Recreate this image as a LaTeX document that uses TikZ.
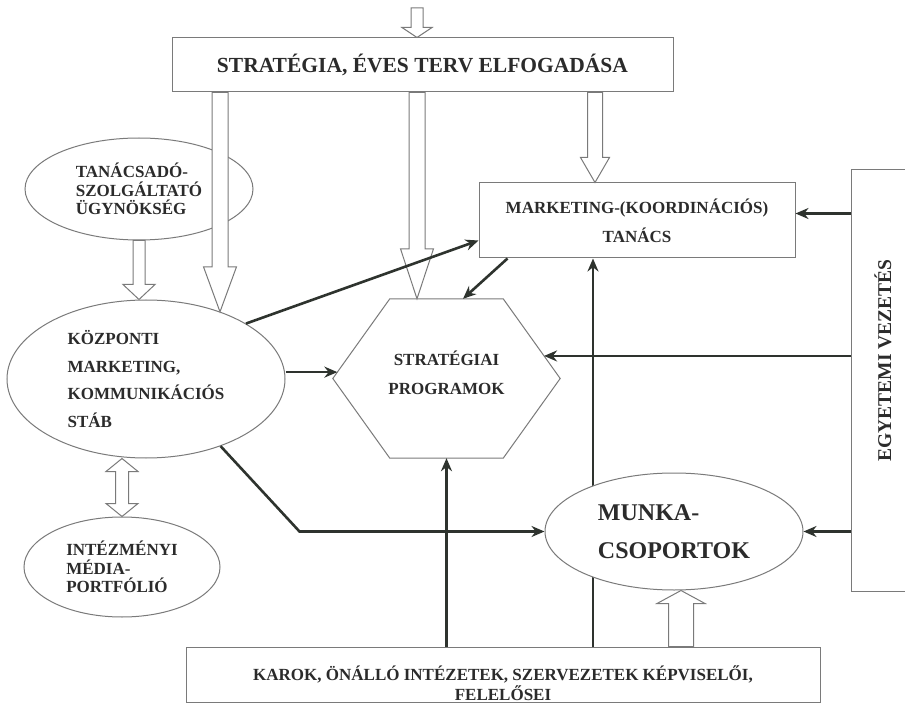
\documentclass[tikz,border=0pt]{standalone}
\usepackage{fontspec}
\setmainfont{Liberation Serif}
\usetikzlibrary{shapes.geometric,arrows.meta,calc,backgrounds}
\definecolor{linegray}{HTML}{7A7A7A}
\definecolor{conncol}{HTML}{2E332E}
\definecolor{txt}{HTML}{2B2B2B}
\tikzset{
  outline/.style={draw=linegray, line width=1pt},
  box/.style={outline, rectangle, inner sep=0pt, fill=white, text=txt},
  ell/.style={outline, ellipse, inner sep=0pt, fill=white, text=txt},
  conn/.style={draw=conncol, line width=2.6pt, -{Stealth[length=13pt,width=11pt]}},
  hollow/.style={draw=linegray, line width=1pt, fill=white, line join=miter},
}
% single hollow block arrow: from #1 to #2, shaft half width #3, head half width #4, head length #5
\newcommand\blockarrow[5]{%
  \path (#1) coordinate (bas) (#2) coordinate (bat);
  \path ($(bat)!#5!(bas)$) coordinate (bab);
  \draw[hollow] ($(bas)!#3!90:(bat)$) -- ($(bab)!#3!-90:(bas)$) -- ($(bab)!#4!-90:(bas)$)
    -- (bat) -- ($(bab)!#4!90:(bas)$) -- ($(bab)!#3!90:(bas)$) -- ($(bas)!#3!-90:(bat)$) -- cycle;
}
% double hollow block arrow
\newcommand\dblockarrow[5]{%
  \path (#1) coordinate (bas) (#2) coordinate (bat);
  \path ($(bat)!#5!(bas)$) coordinate (bab) ($(bas)!#5!(bat)$) coordinate (baa);
  \draw[hollow] (bas) -- ($(baa)!#4!90:(bat)$) -- ($(baa)!#3!90:(bat)$) -- ($(bab)!#3!-90:(bas)$)
    -- ($(bab)!#4!-90:(bas)$) -- (bat) -- ($(bab)!#4!90:(bas)$) -- ($(bab)!#3!90:(bas)$)
    -- ($(baa)!#3!-90:(bat)$) -- ($(baa)!#4!-90:(bat)$) -- cycle;
}
\begin{document}
\begin{tikzpicture}[x=1pt,y=-1pt]
\useasboundingbox (0,0) rectangle (905,703);
\begin{pgfonlayer}{background}
\fill[white] (0,0) rectangle (905,703);
\end{pgfonlayer}

% boxes
\node[box, minimum width=501pt, minimum height=54pt, font=\fontsize{21.5}{24}\selectfont\bfseries] (top) at (422.5,65) {STRATÉGIA, ÉVES TERV ELFOGADÁSA};
\node[box, minimum width=316pt, minimum height=75pt, align=center, font=\fontsize{17}{29}\selectfont\bfseries] (mkt) at (637,220.5) {MARKETING-(KOORDINÁCIÓS)\\TANÁCS};
\node[box, minimum width=64pt, minimum height=421pt, font=\fontsize{19.5}{22}\selectfont\bfseries] (egy) at (883,380.5) {\rotatebox{90}{\hspace{40pt}EGYETEMI VEZETÉS}};
\node[box, minimum width=634pt, minimum height=55pt, align=center, font=\fontsize{17}{20}\selectfont\bfseries] (bot) at (503,674.5) {\mbox{}\\[12pt]KAROK, ÖNÁLLÓ INTÉZETEK, SZERVEZETEK KÉPVISELŐI,\\FELELŐSEI};

% ellipses
\node[ell, minimum width=228pt, minimum height=102pt, align=left, font=\fontsize{17}{18.5}\selectfont\bfseries] (tan) at (139,189) {TANÁCSADÓ-\\SZOLGÁLTATÓ\\ÜGYNÖKSÉG};
\node[ell, minimum width=278pt, minimum height=158pt, align=left, font=\fontsize{17}{27.7}\selectfont\bfseries] (kozp) at (146,379) {KÖZPONTI\\MARKETING,\\KOMMUNIKÁCIÓS\\STÁB};
\node[ell, minimum width=196pt, minimum height=100pt, align=left, font=\fontsize{17}{18.5}\selectfont\bfseries] (intez) at (122,567) {INTÉZMÉNYI\\MÉDIA-\\PORTFÓLIÓ};
\node[ell, minimum width=258pt, minimum height=117pt, align=left, font=\fontsize{24}{38}\selectfont\bfseries] (munka) at (674,531.5) {MUNKA-\\CSOPORTOK};

% hexagon
\node[inner sep=0pt, minimum width=227pt, minimum height=159pt, align=center, text=txt, font=\fontsize{17}{29}\selectfont\bfseries] (prog) at (446.5,378.5) {STRATÉGIAI\\PROGRAMOK\\[-17pt]\mbox{}};
\coordinate (hnw) at ([xshift=57pt]prog.north west);
\coordinate (hne) at ([xshift=-57pt]prog.north east);
\coordinate (hse) at ([xshift=-57pt]prog.south east);
\coordinate (hsw) at ([xshift=57pt]prog.south west);
\draw[outline] (hnw) -- (hne) -- (prog.east) -- (hse) -- (hsw) -- (prog.west) -- cycle;

% hollow arrows
\coordinate (ain) at (417,8);
\coordinate (xa) at (220,0);
\coordinate (xb) at (417,0);
\coordinate (xc) at (595,0);
\coordinate (xg) at (681,0);
\blockarrow{ain}{top.north -| ain}{6pt}{15pt}{10pt}
\blockarrow{top.south -| xa}{xa |- kozp.42}{8pt}{16.5pt}{45pt}
\blockarrow{top.south -| xb}{prog.north -| xb}{8pt}{16.5pt}{50pt}
\blockarrow{top.south -| xc}{mkt.north -| xc}{7.5pt}{14.5pt}{25pt}
\blockarrow{tan.south}{tan.south |- kozp.north}{6pt}{16pt}{15pt}
\dblockarrow{intez.north |- kozp.south}{intez.north}{6.5pt}{16pt}{13pt}
\blockarrow{bot.north -| xg}{munka.south -| xg}{12.5pt}{24pt}{13pt}

% dark connectors
\coordinate (v2) at ([xshift=-44pt]mkt.south);
\begin{pgfonlayer}{background}
\draw[conn] (v2 |- bot.north) -- (v2);
\end{pgfonlayer}
\draw[conn] (kozp.29) -- ([yshift=-20pt]mkt.west);
\draw[conn] ([xshift=29pt]mkt.south west) -- ([xshift=16.5pt]prog.north);
\coordinate (pw) at ($(hnw)!0.92!(prog.west)$);
\draw[conn] (kozp.east |- pw) -- (pw);
\coordinate (m1) at ([yshift=7pt]mkt.east);
\draw[conn] (m1 -| egy.west) -- (m1);
\coordinate (pe) at ($(hne)!0.717!(prog.east)$);
\draw[conn] (pe -| egy.west) -- (pe);
\draw[conn] (munka.east -| egy.west) -- (munka.east);
\draw[conn] (kozp.318) -- ([xshift=-245pt]munka.west) -- (munka.west);
\draw[conn] (prog.south |- bot.north) -- (prog.south);
\end{tikzpicture}
\end{document}
